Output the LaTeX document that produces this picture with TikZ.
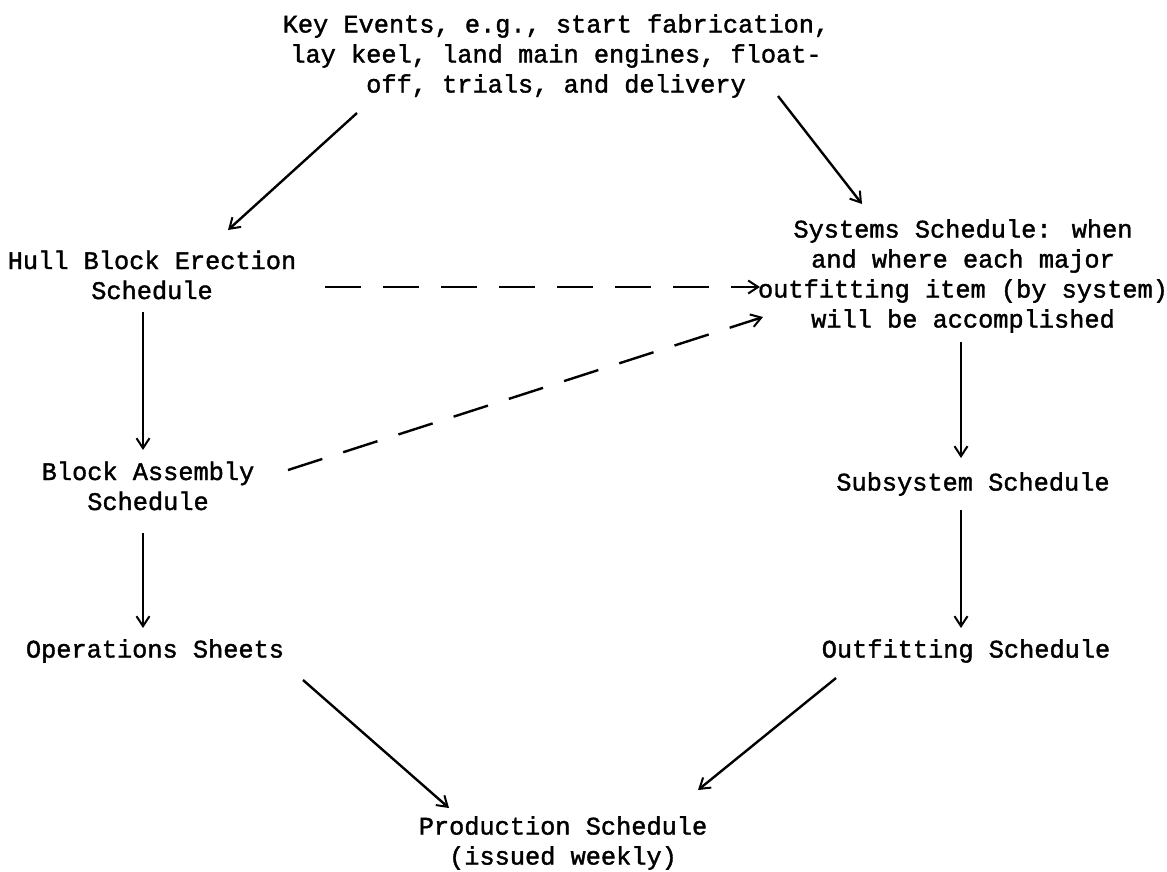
\documentclass[tikz,border=0pt]{standalone}
\usepackage{fontspec}
\setmainfont{Liberation Mono}[RawFeature={embolden=1.5}]
\usetikzlibrary{arrows.meta}
\begin{document}
\begin{tikzpicture}[x=1pt,y=-1pt,
  lbl/.style={align=center,inner sep=0pt,font=\fontsize{25.3}{30}\selectfont},
  link/.style={line width=2.4pt,-{Straight Barb[length=10pt,width=13pt,line width=2pt]}},
  dlink/.style={link,dash pattern=on 36pt off 22pt}]
\useasboundingbox (0,0) rectangle (1167,871);

% schedule levels
\node[lbl] (key)   at (556,56)  {Key Events, e.g., start fabrication,\\lay keel, land main engines, float-\\off, trials, and delivery};
\node[lbl] (hull)  at (152,275) {Hull Block Erection\\Schedule};
\node[lbl] (sys)   at (963,276) {Systems Schedule:  when\\and where each major\\outfitting item (by system)\\will be accomplished};
\node[lbl] (block) at (148,486) {Block Assembly\\Schedule};
\node[lbl] (sub)   at (973,484) {Subsystem Schedule};
\node[lbl] (ops)   at (155,651) {Operations Sheets};
\node[lbl] (outf)  at (966,651) {Outfitting Schedule};
\node[lbl] (prod)  at (563,843) {Production Schedule\\(issued weekly)};

% solid flow
\draw[link] ([shift={(-199,57)}]key.center) -- ([shift={(76,-45)}]hull.center);
\draw[link] ([shift={(222,40)}]key.center) -- ([shift={(-101,-72)}]sys.center);
\draw[link] ([shift={(-9,37)}]hull.center) -- ([shift={(-5,-36)}]block.center);
\draw[link] ([shift={(-5,47)}]block.center) -- ([shift={(-12,-23)}]ops.center);
\draw[link] ([shift={(-2,66)}]sys.center) -- ([shift={(-12,-26)}]sub.center);
\draw[link] ([shift={(-12,26)}]sub.center) -- ([shift={(-5,-23)}]outf.center);
\draw[link] ([shift={(148,29)}]ops.center) -- ([shift={(-114,-35)}]prod.center);
\draw[link] ([shift={(-130,27)}]outf.center) -- ([shift={(135,-53)}]prod.center);

% dashed feeds into the systems schedule
\draw[dlink] ([shift={(173,12)}]hull.center) -- ([shift={(-203,11)}]sys.center);
\draw[dlink] ([shift={(140,-16)}]block.center) -- ([shift={(-200,41)}]sys.center);
\end{tikzpicture}
\end{document}
